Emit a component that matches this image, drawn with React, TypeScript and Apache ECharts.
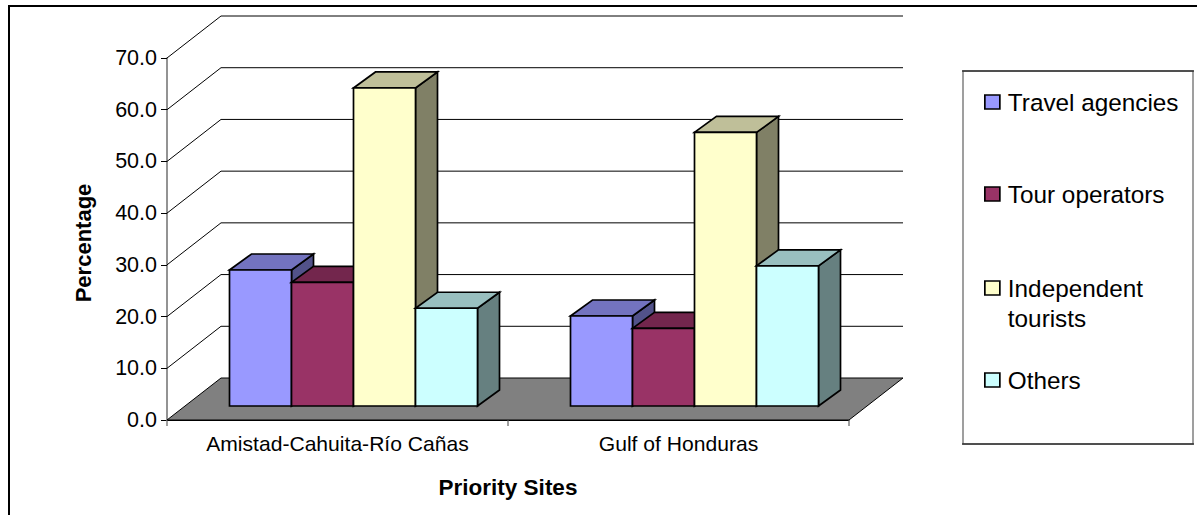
import React, { useEffect, useRef } from "react";
import * as echarts from "echarts";

const categories = ["Amistad-Cahuita-Río Cañas", "Gulf of Honduras"];
const seriesNames = ["Travel agencies", "Tour operators", "Independent tourists", "Others"];
const travelAgencies = [26.3, 17.4];
const tourOperators = [23.9, 15.0];
const independentTourists = [61.5, 52.9];
const others = [18.9, 27.1];
const yTicks = [10, 20, 30, 40, 50, 60, 70];

const FONT = '"Liberation Sans", Arial, sans-serif';
const frontColors = ["#9999FF", "#993366", "#FFFFCC", "#CCFFFF"];
const topColors = ["#7373BF", "#73264D", "#BFBF99", "#99BFBF"];
const sideColors = ["#52528A", "#4D1A33", "#808066", "#668080"];
const legendTops = [85, 177, 240, 363];
const legendFormats = ["{n}", "{n}", "\n{a}\n{b}", "{n}"];

const WALL_DX = 54;
const WALL_DY = 42;
const BAR_INSET_DY = 14;
const BAR_INSET_SHIFT = 16;
const BAR_DX = 22;
const BAR_DY = 16;
const BAR_FRACTION = 62 / 341;

const lineStyle = { stroke: "#000", lineWidth: 1.7, lineJoin: "miter" };

function cubeRenderer(index: number) {
  return (_params: any, api: any) => {
    const base = api.coord([api.value(0), 0]);
    const top = api.coord([api.value(0), api.value(1)]);
    const w = api.size([1, 0])[0] * BAR_FRACTION;
    const x0 = base[0] + BAR_INSET_SHIFT - 2 * w + index * w;
    const x1 = x0 + w;
    const y0 = base[1] - BAR_INSET_DY;
    const y1 = top[1] - BAR_INSET_DY;
    const poly = (points: number[][], fill: string) => ({
      type: "polygon",
      shape: { points },
      style: { ...lineStyle, fill },
    });
    return {
      type: "group",
      children: [
        poly(
          [[x1, y0], [x1 + BAR_DX, y0 - BAR_DY], [x1 + BAR_DX, y1 - BAR_DY], [x1, y1]],
          sideColors[index]
        ),
        poly(
          [[x0, y1], [x1, y1], [x1 + BAR_DX, y1 - BAR_DY], [x0 + BAR_DX, y1 - BAR_DY]],
          topColors[index]
        ),
        poly([[x0, y0], [x1, y0], [x1, y1], [x0, y1]], frontColors[index]),
      ],
    };
  };
}

function wallRenderer(params: any, api: any) {
  const cs = params.coordSys;
  const y = api.coord([0, api.value(1)])[1];
  return {
    type: "polyline",
    shape: {
      points: [
        [cs.x, y],
        [cs.x + WALL_DX, y - WALL_DY],
        [cs.x + cs.width + WALL_DX, y - WALL_DY],
      ],
    },
    style: { stroke: "#000", lineWidth: 1, fill: "none" },
  };
}

function floorRenderer(params: any, api: any) {
  const cs = params.coordSys;
  const y = api.coord([0, 0])[1];
  return {
    type: "polygon",
    shape: {
      points: [
        [cs.x, y],
        [cs.x + WALL_DX, y - WALL_DY],
        [cs.x + cs.width + WALL_DX, y - WALL_DY],
        [cs.x + cs.width, y],
      ],
    },
    style: { fill: "#808080", stroke: "#000", lineWidth: 1 },
  };
}

export default function App() {
  const ref = useRef<HTMLDivElement>(null);
  useEffect(() => {
    const chart = echarts.init(ref.current!, undefined, { renderer: "svg" });
    const allValues = [travelAgencies, tourOperators, independentTourists, others];
    const cubeSeries = allValues.map((values, i) => ({
      type: "custom",
      name: seriesNames[i],
      renderItem: cubeRenderer(i),
      itemStyle: { color: frontColors[i] },
      data: values.map((v, c) => [c, v]),
      encode: { x: 0, y: 1 },
      z: 5 + i,
    }));
    const legends = seriesNames.map((name, i) => ({
      show: true,
      left: 984,
      top: legendTops[i],
      padding: 0,
      orient: "vertical",
      icon: "rect",
      itemWidth: 15,
      itemHeight: 14,
      selectedMode: false,
      data: [
        {
          name,
          itemStyle: { color: frontColors[i], borderColor: "#000", borderWidth: 1.7 },
        },
      ],
      formatter: (n: string) => {
        const parts = n.split(" ");
        return legendFormats[i]
          .replace("{n}", n)
          .replace("{a}", parts[0])
          .replace("{b}", parts[1] ?? "");
      },
      textStyle: {
        fontFamily: FONT,
        fontSize: 24.3,
        color: "#000",
        lineHeight: i === 2 ? 30 : 28,
        padding: [0, 0, 6, 3],
      },
    }));
    chart.setOption({
      animation: false,
      backgroundColor: "#fff",
      grid: { left: 167, top: 58, width: 682, height: 362, containLabel: false },
      xAxis: {
        type: "category",
        data: categories,
        name: "Priority Sites",
        nameLocation: "middle",
        nameGap: 56,
        nameTextStyle: { fontFamily: FONT, fontSize: 22.5, fontWeight: "bold", color: "#000" },
        axisLine: { show: true, lineStyle: { color: "#000", width: 1 } },
        axisTick: { show: true, interval: 0, length: 6, lineStyle: { color: "#808080", width: 1.5 } },
        axisLabel: { interval: 0, fontFamily: FONT, fontSize: 21.1, color: "#000", margin: 13 },
        splitLine: { show: false },
      },
      yAxis: {
        type: "value",
        min: 0,
        max: 70,
        interval: 10,
        name: "Percentage",
        nameLocation: "middle",
        nameRotate: 90,
        nameGap: 73,
        nameTextStyle: {
          fontFamily: FONT,
          fontSize: 22,
          fontWeight: "bold",
          color: "#000",
          padding: [0, 8, 0, 0],
        },
        axisLine: { show: true, lineStyle: { color: "#808080", width: 1.7 } },
        axisTick: { show: true, length: 6, lineStyle: { color: "#000", width: 1 } },
        axisLabel: {
          fontFamily: FONT,
          fontSize: 21.5,
          color: "#000",
          margin: 10,
          padding: [0, 0, 2, 0],
          formatter: (v: number) => v.toFixed(1),
        },
        splitLine: { show: false },
      },
      legend: legends,
      graphic: [
        {
          type: "rect",
          silent: true,
          z: -10,
          shape: { x: 9, y: 6, width: 1300, height: 700 },
          style: { fill: "none", stroke: "#000", lineWidth: 2 },
        },
        {
          type: "rect",
          silent: true,
          z: -10,
          shape: { x: 963, y: 71, width: 230, height: 373 },
          style: { fill: "#fff", stroke: "#808080", lineWidth: 1.5 },
        },
        {
          type: "line",
          silent: true,
          z: -9,
          shape: { x1: 962, y1: 71, x2: 1194, y2: 71 },
          style: { stroke: "#000", lineWidth: 1 },
        },
        {
          type: "line",
          silent: true,
          z: -9,
          shape: { x1: 962, y1: 444, x2: 1194, y2: 444 },
          style: { stroke: "#000", lineWidth: 1 },
        },
      ],
      series: [
        {
          type: "custom",
          renderItem: floorRenderer,
          data: [[0, 0]],
          encode: { x: 0, y: 1 },
          z: 3,
          silent: true,
        },
        {
          type: "custom",
          renderItem: wallRenderer,
          data: yTicks.map((t) => [0, t]),
          encode: { x: 0, y: 1 },
          z: 4,
          silent: true,
        },
        ...cubeSeries,
      ],
    });
    return () => chart.dispose();
  }, []);
  return (
    <div
      ref={ref}
      style={{ position: "fixed", left: 0, top: 0, width: 1197, height: 515 }}
    />
  );
}
